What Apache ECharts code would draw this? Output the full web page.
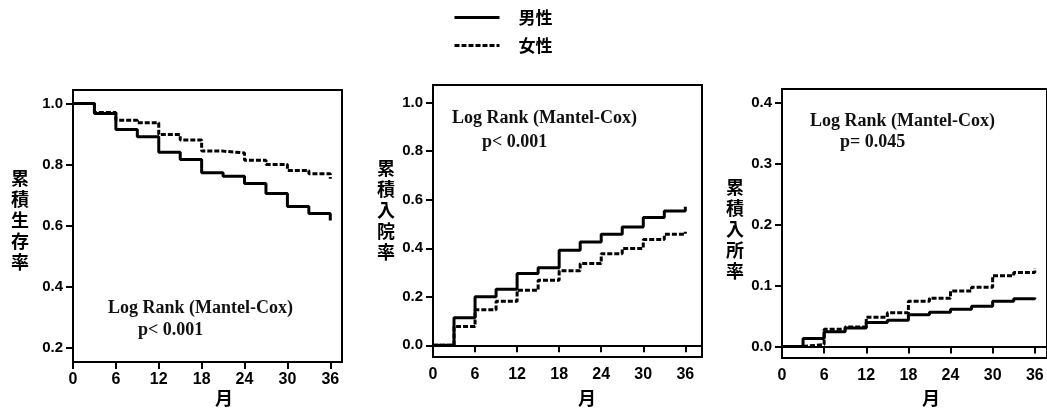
<!DOCTYPE html>
<html>
<head>
<meta charset="utf-8">
<script src="https://cdn.jsdelivr.net/npm/echarts@6/dist/echarts.min.js"></script>
<style>
body { margin: 0; background: #fff; }
#main { width: 1047px; height: 415px; }
</style>
</head>
<body>
<div id="main"></div>
<script type="text/javascript">
	// 月 (months), step points of the Kaplan-Meier curves
	var months = [0, 3, 6, 9, 12, 15, 18, 21, 24, 27, 30, 33, 36];
	// 累積生存率
	var survMale = [1.0, 0.967, 0.915, 0.891, 0.84, 0.817, 0.773, 0.762, 0.738, 0.705, 0.663, 0.64, 0.617];
	var survFemale = [1.0, 0.97, 0.945, 0.937, 0.898, 0.88, 0.844, 0.838, 0.814, 0.80, 0.781, 0.77, 0.754];
	// 累積入院率
	var admMale = [0, 0.114, 0.2, 0.231, 0.296, 0.32, 0.392, 0.426, 0.458, 0.488, 0.527, 0.554, 0.571];
	var admFemale = [0, 0.078, 0.147, 0.182, 0.227, 0.268, 0.307, 0.337, 0.378, 0.399, 0.436, 0.458, 0.468];
	// 累積入所率
	var nhMale = [0, 0.013, 0.024, 0.03, 0.039, 0.043, 0.052, 0.056, 0.061, 0.066, 0.074, 0.078, 0.08];
	var nhFemale = [0, 0.003, 0.028, 0.032, 0.048, 0.055, 0.074, 0.079, 0.091, 0.097, 0.116, 0.121, 0.128];

	// tick labels
	var xTicks = [0, 6, 12, 18, 24, 30, 36];
	var yTicks1 = [0.2, 0.4, 0.6, 0.8, 1.0];
	var yTicks2 = [0.0, 0.2, 0.4, 0.6, 0.8, 1.0];
	var yTicks3 = [0.0, 0.1, 0.2, 0.3, 0.4];

	var sexNames = ['男性', '女性'];
	var yNames = ['累\n積\n生\n存\n率', '累\n積\n入\n院\n率', '累\n積\n入\n所\n率'];
	var testText = [
		['Log Rank (Mantel-Cox)', 'p< 0.001'],
		['Log Rank (Mantel-Cox)', 'p< 0.001'],
		['Log Rank (Mantel-Cox)', 'p= 0.045']
	];

	function pairs(ys) {
		var arr = [];
		for (var i = 0; i < months.length; i++) {
			arr.push([months[i], ys[i]]);
		}
		return arr;
	}

	var tickFont = {
		color : '#000',
		fontFamily : 'Liberation Sans, Arial, sans-serif',
		fontWeight : 'bold',
		fontSize : 15
	};

	function xAxisOpt(idx, max) {
		return {
			type : 'value',
			gridIndex : idx,
			min : 0,
			max : max,
			axisLine : { show : true, lineStyle : { color : '#000', width : 2 } },
			axisTick : { show : true, length : 7, lineStyle : { color : '#000', width : 2 }, customValues : xTicks },
			axisLabel : Object.assign({ margin : 10, customValues : xTicks, fontSize : 16 }, {
				color : '#000', fontFamily : tickFont.fontFamily, fontWeight : 'bold'
			}),
			splitLine : { show : false }
		};
	}

	function yAxisOpt(idx, min, max, ticks) {
		return {
			type : 'value',
			gridIndex : idx,
			min : min,
			max : max,
			axisLine : { show : true, lineStyle : { color : '#000', width : 2 } },
			axisTick : { show : true, length : 7, lineStyle : { color : '#000', width : 2 }, customValues : ticks },
			axisLabel : Object.assign({ margin : 10, customValues : ticks,
				formatter : function(v) { return v.toFixed(1); } }, tickFont),
			splitLine : { show : false }
		};
	}

	function kmSeries(name, idx, ys, dashed) {
		return {
			name : name,
			type : 'line',
			step : 'end',
			xAxisIndex : idx,
			yAxisIndex : idx,
			symbol : 'none',
			data : pairs(ys),
			lineStyle : { color : '#000', width : 3, type : dashed ? [5, 2] : 'solid' },
			itemStyle : { color : '#000' }
		};
	}

	var panels = [
		{ left : 73, top : 90, height : 272, xMax : 37.64, yMin : 0.154, yMax : 1.044, ticks : yTicks1,
			nameX : 20, nameY : 220, annX : 108, annY : [308, 330], monthX : 224 },
		{ left : 433, top : 85, height : 272, xMax : 38.38, yMin : -0.048, yMax : 1.073, ticks : yTicks2,
			nameX : 386, nameY : 210, annX : 452, annY : [118, 142], monthX : 587 },
		{ left : 782, top : 89, height : 269, xMax : 37.74, yMin : -0.019, yMax : 0.422, ticks : yTicks3,
			nameX : 735, nameY : 229, annX : 810, annY : [121, 142], monthX : 931 }
	];
	var seriesData = [[survMale, survFemale], [admMale, admFemale], [nhMale, nhFemale]];

	var grids = [], xAxes = [], yAxes = [], series = [], graphics = [];
	panels.forEach(function(p, i) {
		grids.push({
			left : p.left, top : p.top, width : 269, height : p.height,
			show : true, borderColor : '#000', borderWidth : 2, containLabel : false
		});
		xAxes.push(xAxisOpt(i, p.xMax));
		yAxes.push(yAxisOpt(i, p.yMin, p.yMax, p.ticks));
		series.push(kmSeries(sexNames[0], i, seriesData[i][0], false));
		series.push(kmSeries(sexNames[1], i, seriesData[i][1], true));
		// 纵轴标题
		graphics.push({
			type : 'text', x : p.nameX, y : p.nameY,
			style : { text : yNames[i], align : 'center', verticalAlign : 'middle',
				font : 'bold 18px "Noto Sans CJK JP"', lineHeight : 21, fill : '#000' }
		});
		// 横轴标题
		graphics.push({
			type : 'text', x : p.monthX, y : 398,
			style : { text : '月', align : 'center', verticalAlign : 'middle',
				font : 'bold 18px "Noto Sans CJK JP"', fill : '#000' }
		});
		// Log Rank 注释
		graphics.push({
			type : 'text', x : p.annX, y : p.annY[0],
			style : { text : testText[i][0], align : 'left', verticalAlign : 'middle',
				font : 'bold 18px "Liberation Serif"', fill : '#111' }
		});
		graphics.push({
			type : 'text', x : p.annX + 30, y : p.annY[1],
			style : { text : testText[i][1], align : 'left', verticalAlign : 'middle',
				font : 'bold 18px "Liberation Serif"', fill : '#111' }
		});
	});

	var myChart = echarts.init(document.getElementById('main'));
	var option = {
		animation : false,
		backgroundColor : '#fff',
		legend : {
			data : sexNames,
			orient : 'vertical',
			left : 448,
			top : 4,
			itemWidth : 45,
			itemHeight : 14,
			itemGap : 11,
			itemStyle : { opacity : 0 },
			lineStyle : { width : 3 },
			textStyle : {
				color : '#000',
				fontFamily : 'Noto Sans CJK JP',
				fontWeight : 'bold',
				fontSize : 17,
				padding : [0, 0, 0, 14]
			}
		},
		grid : grids,
		xAxis : xAxes,
		yAxis : yAxes,
		series : series,
		graphic : graphics
	};
	myChart.setOption(option);
</script>
</body>
</html>
